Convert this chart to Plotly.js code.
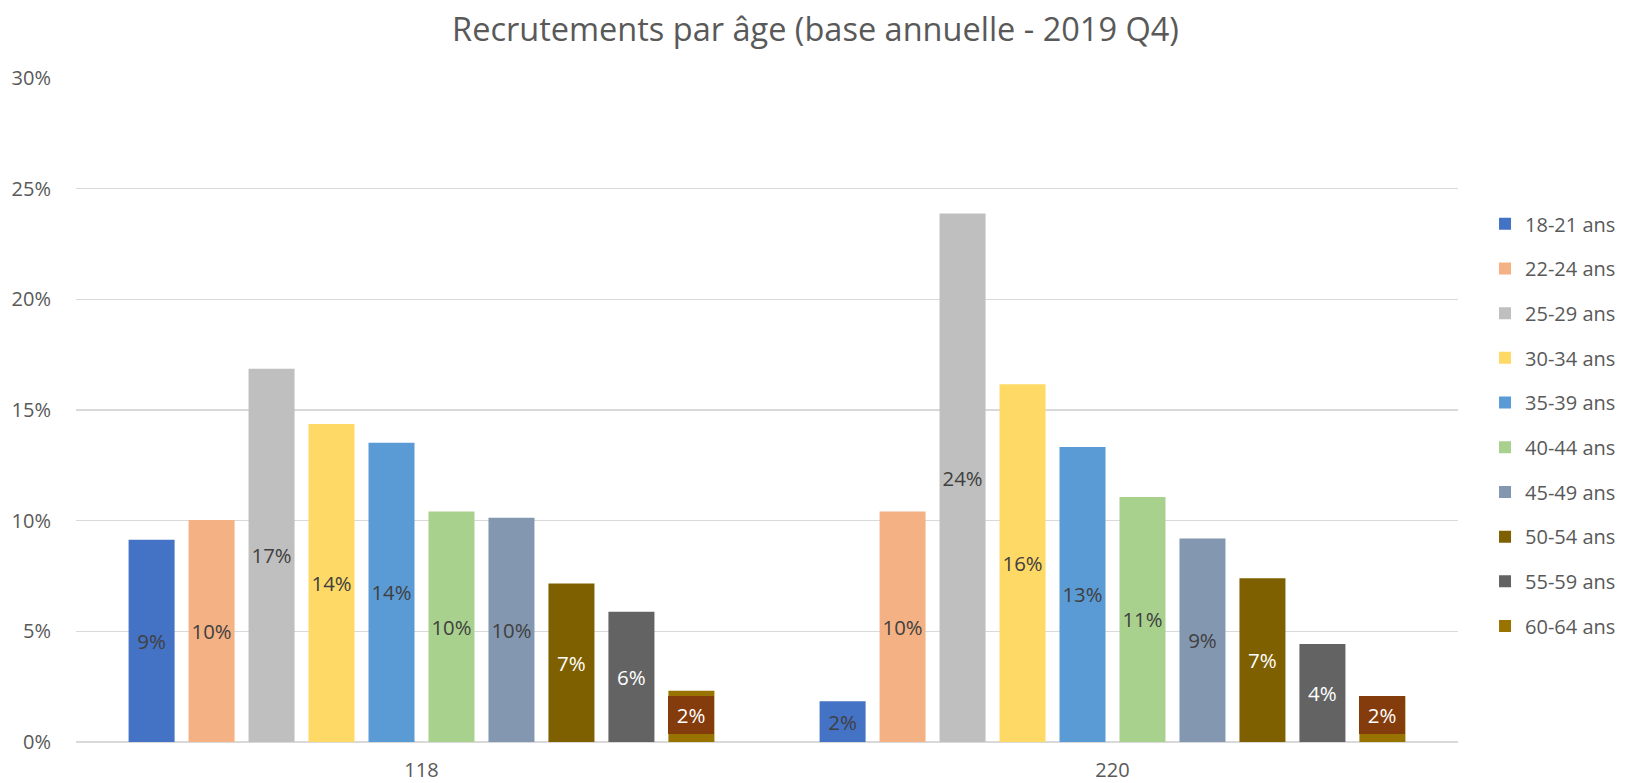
<!DOCTYPE html>
<html>
<head>
<meta charset="utf-8">
<script src="https://cdn.plot.ly/plotly-3.0.1.min.js"></script>
<style>html,body{margin:0;padding:0;background:#fff;}#chart{width:1631px;height:783px;}</style>
</head>
<body>
<div id="chart"></div>
<script>
// ---- data ----
const categories = ['118', '220'];
const seriesNames = ['18-21 ans','22-24 ans','25-29 ans','30-34 ans','35-39 ans','40-44 ans','45-49 ans','50-54 ans','55-59 ans','60-64 ans'];
const s18_21 = [0.0914, 0.0184];
const s22_24 = [0.1003, 0.1041];
const s25_29 = [0.1686, 0.2388];
const s30_34 = [0.1437, 0.1616];
const s35_39 = [0.1352, 0.1333];
const s40_44 = [0.1041, 0.1107];
const s45_49 = [0.1013, 0.0919];
const s50_54 = [0.0716, 0.0740];
const s55_59 = [0.0589, 0.0443];
const s60_64 = [0.0231, 0.0207];
const seriesValues = [s18_21, s22_24, s25_29, s30_34, s35_39, s40_44, s45_49, s50_54, s55_59, s60_64];
const yTickVals = [0, 0.05, 0.10, 0.15, 0.20, 0.25, 0.30];

// ---- style ----
const colors = ['#4472C4','#F4B183','#BFBFBF','#FFD966','#5B9BD5','#A9D18E','#8497B0','#7F6000','#636363','#997300'];
const labelColors = ['#404040','#404040','#404040','#404040','#404040','#404040','#404040','#FFFFFF','#FFFFFF','#FFFFFF'];
const boxedSeries = 9; // label drawn in a filled box
const boxColor = '#843C0C';
const FONT = 'Open Sans, DejaVu Sans, sans-serif';
const GREY = '#595959';
const bargap = 0.132;
const bargroupgap = 0.233;

const traces = seriesNames.map((name, i) => ({
  type: 'bar',
  name: name,
  legendgroup: 'g' + i,
  x: categories,
  y: seriesValues[i],
  marker: {color: colors[i], line: {width: 0}},
  texttemplate: i === boxedSeries ? '' : '%{y:.0%}',
  textposition: 'inside',
  insidetextanchor: 'middle',
  textangle: 0,
  insidetextfont: {family: FONT, size: 20.5, color: labelColors[i]},
  hoverinfo: 'name+y'
}));

const N = seriesNames.length;
const slot = (1 - bargap) / N;
const annotations = categories.map((c, ci) => ({
  xref: 'x', yref: 'y',
  x: ci - (1 - bargap) / 2 + (boxedSeries + 0.5) * slot,
  y: 0,
  yanchor: 'bottom',
  yshift: 8,
  text: Math.round(seriesValues[boxedSeries][ci] * 100) + '%',
  showarrow: false,
  bgcolor: boxColor,
  borderwidth: 0,
  borderpad: 0,
  width: 46,
  height: 38,
  font: {family: FONT, size: 20.5, color: labelColors[boxedSeries]}
}));

const layout = {
  width: 1631, height: 783,
  paper_bgcolor: '#ffffff', plot_bgcolor: '#ffffff',
  font: {family: FONT, size: 20, color: GREY},
  margin: {l: 76, r: 173, t: 78, b: 41, pad: 0, autoexpand: false},
  title: {text: 'Recrutements par âge (base annuelle - 2019 Q4)', font: {family: FONT, size: 32.5, color: GREY},
          x: 0.5, xref: 'container', y: 0.962, yref: 'container', yanchor: 'middle'},
  barmode: 'group',
  bargap: bargap,
  bargroupgap: bargroupgap,
  xaxis: {type: 'category', showgrid: false, zeroline: false, showline: false,
          ticks: 'outside', ticklen: 10, tickcolor: 'rgba(0,0,0,0)', automargin: false,
          tickfont: {family: FONT, size: 20, color: GREY}},
  yaxis: {range: [0, 0.30], tickvals: yTickVals, tickformat: '.0%', automargin: false,
          showgrid: true, gridcolor: '#D9D9D9', gridwidth: 1.3,
          zeroline: true, zerolinecolor: '#D9D9D9', zerolinewidth: 1.3, showline: false,
          ticks: 'outside', ticklen: 20, tickcolor: 'rgba(0,0,0,0)',
          tickfont: {family: FONT, size: 20, color: GREY}},
  legend: {xref: 'container', x: 0.9105, xanchor: 'left', y: 0.477, yanchor: 'middle', tracegroupgap: 15.7,
           font: {family: FONT, size: 20, color: GREY}, bgcolor: 'rgba(0,0,0,0)'},
  annotations: annotations,
  showlegend: true
};

Plotly.newPlot('chart', traces, layout, {displayModeBar: false, staticPlot: true});
</script>
</body>
</html>
